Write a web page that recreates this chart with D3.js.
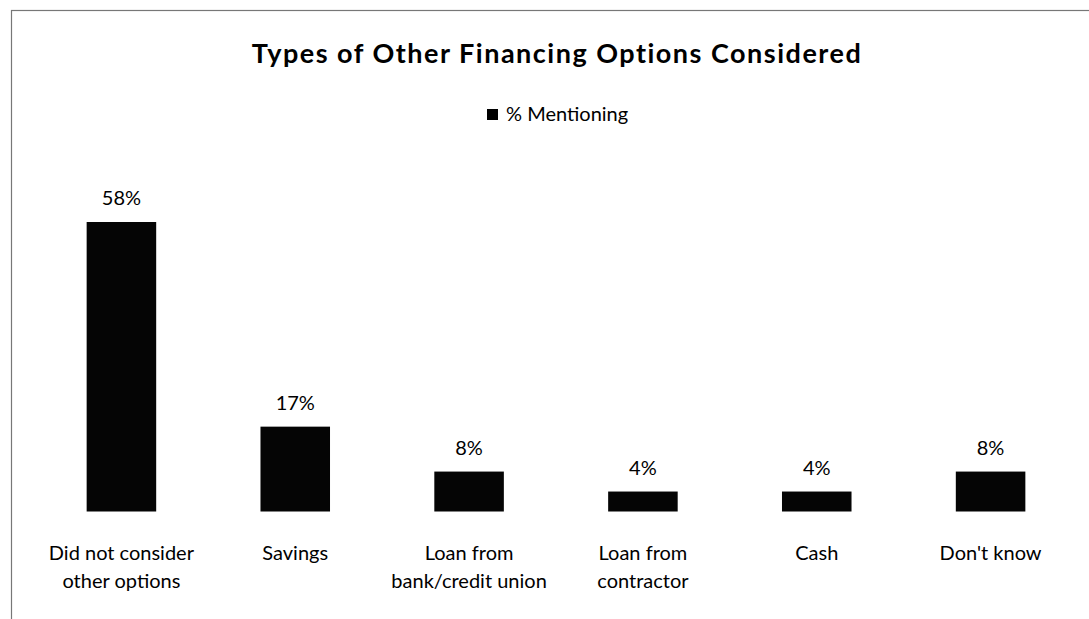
<!DOCTYPE html>
<html>
<head>
<meta charset="utf-8">
<script src="https://cdn.jsdelivr.net/npm/d3@7"></script>
<style>
  html, body { margin: 0; padding: 0; background: #fff; }
  svg { display: block; }
  text { font-family: Lato, "Open Sans", sans-serif; fill: #000; }
</style>
</head>
<body>
<svg id="chart" width="1089" height="619"></svg>
<script>
const title = "Types of Other Financing Options Considered";
const seriesName = "% Mentioning";
const categories = [
  ["Did not consider", "other options"],
  ["Savings"],
  ["Loan from", "bank/credit union"],
  ["Loan from", "contractor"],
  ["Cash"],
  ["Don't know"]
];
const values = [58, 17, 8, 4, 4, 8];

const W = 1089, H = 619;
const svg = d3.select("#chart");

// outer border (extends beyond right/bottom edge as in the reference)
svg.append("rect")
  .attr("x", 11.5).attr("y", 10.5)
  .attr("width", 1100).attr("height", 700)
  .attr("fill", "none").attr("stroke", "#777").attr("stroke-width", 1.2);

const x = d3.scaleBand()
  .domain(d3.range(categories.length))
  .range([34.5, 1077.5])
  .paddingInner(0.6).paddingOuter(0.3);

const y = d3.scaleLinear().domain([0, 58]).range([511.5, 222]);

// title
svg.append("text")
  .attr("x", 557).attr("y", 63)
  .attr("text-anchor", "middle")
  .style("font-weight", "bold").style("font-size", "27px")
  .style("letter-spacing", "1.5px")
  .text(title);

// legend
const lg = svg.append("g");
lg.append("rect").attr("x", 487).attr("y", 109).attr("width", 11).attr("height", 11).attr("fill", "#000");
lg.append("text").attr("x", 506).attr("y", 121).style("font-size", "20px").text(seriesName);

// bars
svg.append("g").selectAll("rect").data(values).join("rect")
  .attr("x", (d, i) => x(i))
  .attr("y", d => y(d))
  .attr("width", x.bandwidth())
  .attr("height", d => y(0) - y(d))
  .attr("fill", "#050505");

// value labels
svg.append("g").selectAll("text").data(values).join("text")
  .attr("x", (d, i) => x(i) + x.bandwidth() / 2)
  .attr("y", d => y(d) - 17)
  .attr("text-anchor", "middle")
  .style("font-size", "20px")
  .text(d => d + "%");

// category labels via axis-like layout
const xAxis = d3.axisBottom(x).tickSize(0).tickFormat("");
const ax = svg.append("g").attr("transform", `translate(0,${y(0)})`).call(xAxis);
ax.select(".domain").remove();
ax.selectAll(".tick").each(function(d) {
  const t = d3.select(this).append("text")
    .attr("text-anchor", "middle")
    .style("font-size", "20px");
  categories[d].forEach((line, k) => {
    t.append("tspan").attr("x", 0).attr("y", 48 + k * 28).text(line);
  });
});
</script>
</body>
</html>
